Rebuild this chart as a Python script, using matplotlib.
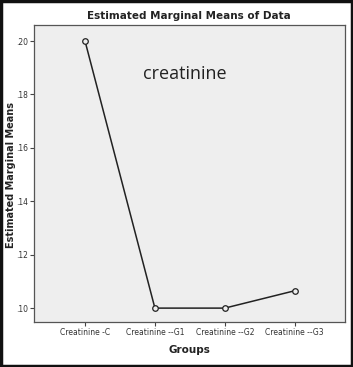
import matplotlib.pyplot as plt
from matplotlib.patches import Rectangle

groups = ['Creatinine -C', 'Creatinine --G1', 'Creatinine --G2', 'Creatinine --G3']
means = [0.200, 0.100, 0.100, 0.1065]
yticks = [0.10, 0.12, 0.14, 0.16, 0.18, 0.20]
ytick_labels = ['.10', '.12', '.14', '.16', '.18', '.20']

narrow = ['Liberation Sans Narrow', 'DejaVu Sans']

fig = plt.figure(figsize=(3.53, 3.67), dpi=100)
ax = fig.add_axes([34 / 353, 1 - 322 / 367, (345 - 34) / 353, (322 - 25) / 367])
ax.set_facecolor('#eeeeee')

x = list(range(len(groups)))
ax.plot(x, means, color='#222222', lw=1.1, marker='o', ms=4,
        mfc='#eeeeee', mec='#222222', mew=0.9)

ax.set_xlim(-0.73, 3.72)
ax.set_ylim(0.0948, 0.206)
ax.set_xticks(x)
ax.set_xticklabels(groups, fontsize=5.5, family=narrow, color='#333333')
ax.set_yticks(yticks)
ax.set_yticklabels(ytick_labels, fontsize=5.5, family=narrow, color='#333333')
ax.tick_params(length=3, width=0.8, color='#444444', pad=1.5)
for s in ax.spines.values():
    s.set_color('#555555')
    s.set_linewidth(0.9)

ax.text(1.43, 0.1875, 'creatinine', fontsize=13, family=['Open Sans', 'DejaVu Sans'],
        ha='center', va='center', color='#222222')

fig.text(189 / 353, 1 - 16 / 367, 'Estimated Marginal Means of Data', ha='center', va='center',
         fontsize=7.5, fontweight='bold', family=narrow, color='#222222')
fig.text(11 / 353, 1 - 175 / 367, 'Estimated Marginal Means', ha='center', va='center',
         rotation=90, fontsize=7, fontweight='bold', family=['DejaVu Sans'], color='#222222')
fig.text(189 / 353, 1 - 350 / 367, 'Groups', ha='center', va='center',
         fontsize=7.5, fontweight='bold', family=['DejaVu Sans'], color='#222222')

fig.patches.append(Rectangle((0.003, 0.003), 0.994, 0.994, transform=fig.transFigure,
                             fill=False, ec='#111111', lw=2.5))

fig.savefig('out.png', dpi=100)
